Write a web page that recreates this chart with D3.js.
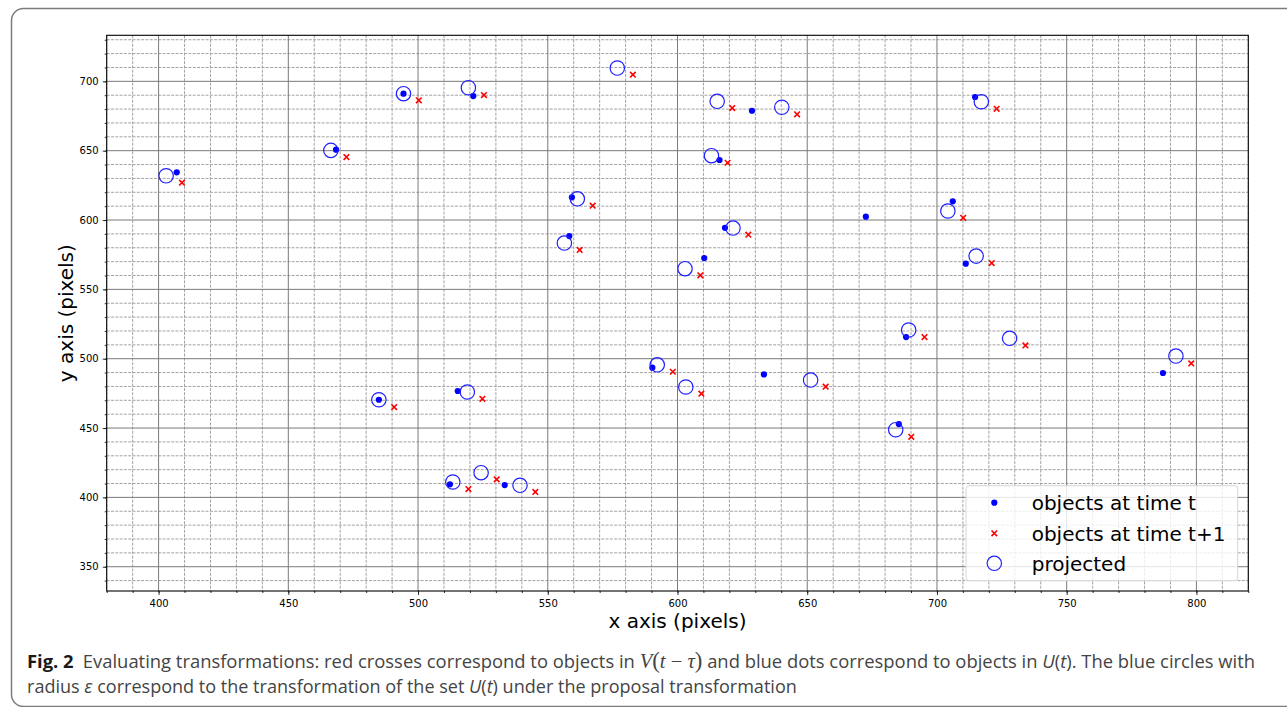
<!DOCTYPE html>
<html>
<head>
<meta charset="utf-8">
<script src="https://cdn.jsdelivr.net/npm/d3@7"></script>
<style>
  body { margin: 0; background: #fff; }
  svg { display: block; }
  .tick text { font-family: "DejaVu Sans", sans-serif; font-size: 10px; fill: #000; }
</style>
</head>
<body>
<svg id="chart" width="1287" height="707"></svg>
<script>
// objects at time t (blue dots)
var dotsT = [
    [407.0, 634.4], [468.4, 650.7], [494.4, 691.1], [484.9, 470.4], [521.3, 689.4],
    [628.7, 678.8], [616.2, 643.3], [559.3, 616.4], [558.3, 588.4], [618.3, 594.4],
    [610.3, 572.6], [590.3, 493.5], [633.3, 488.7], [515.3, 476.7], [512.3, 409.4],
    [533.4, 408.9], [714.7, 688.7], [672.6, 602.4], [706.1, 613.5], [711.1, 568.5],
    [688.1, 515.6], [787.1, 489.7], [685.3, 452.9]
];

// objects at time t+1 (red crosses)
var crossesT1 = [
    [409.0, 626.9], [472.4, 645.4], [500.3, 686.3], [490.8, 465.1], [525.4, 690.1],
    [582.8, 704.8], [621.1, 680.7], [646.1, 676.2], [619.3, 641.3], [567.3, 610.3],
    [627.3, 589.4], [562.3, 578.4], [608.8, 560.1], [598.2, 490.6], [609.2, 474.8],
    [657.1, 479.8], [524.8, 471.1], [519.4, 406.0], [530.3, 413.0], [545.2, 403.9],
    [723.0, 680.2], [710.1, 601.6], [721.1, 569.0], [695.2, 515.6], [734.1, 509.6],
    [798.0, 496.6], [690.1, 443.7]
];

// projected (blue open circles)
var projected = [
    [402.9, 631.9], [466.4, 650.2], [494.4, 691.1], [484.9, 470.4], [519.4, 695.4],
    [576.8, 709.6], [615.3, 685.6], [640.2, 681.3], [613.1, 646.4], [561.4, 615.3],
    [621.4, 594.2], [556.4, 583.4], [602.9, 564.9], [592.2, 495.6], [603.2, 479.6],
    [651.3, 484.6], [519.0, 476.0], [513.4, 411.1], [524.3, 417.8], [539.3, 408.7],
    [717.1, 685.3], [704.2, 606.5], [715.1, 574.0], [689.1, 520.7], [728.0, 514.7],
    [792.1, 501.9], [684.1, 448.8]
];

var xDomain = [380, 820],
    yDomain = [332.5, 733.2],
    xMajor = d3.range(400, 801, 50),
    yMajor = d3.range(350, 701, 50),
    xMinor = d3.range(380, 821, 10),
    yMinor = d3.range(340, 731, 10);

var legendLabels = ['objects at time t', 'objects at time t+1', 'projected'];

(function () {

    var svg = d3.select('#chart');

    // figure frame (caption box)
    svg.append('rect')
        .attr('x', 11.5).attr('y', 8.5)
        .attr('width', 1400).attr('height', 698)
        .attr('rx', 12).attr('ry', 12)
        .attr('fill', 'none')
        .attr('stroke', '#7c7c7c')
        .attr('stroke-width', 1.5);

    var pLeft = 106.7, pRight = 1248.3, pTop = 35.3, pBottom = 591;

    var x = d3.scaleLinear().domain(xDomain).range([pLeft, pRight]),
        y = d3.scaleLinear().domain(yDomain).range([pBottom, pTop]);

    var plot = svg.append('g');

    // minor grid
    plot.append('g').selectAll('line')
        .data(xMinor.filter(function (v) { return v % 50 !== 0; }))
        .enter().append('line')
        .attr('x1', function (d) { return x(d); })
        .attr('x2', function (d) { return x(d); })
        .attr('y1', pTop).attr('y2', pBottom)
        .attr('stroke', '#a3a3a3').attr('stroke-width', 1)
        .attr('stroke-dasharray', '3,1.3');

    plot.append('g').selectAll('line')
        .data(yMinor.filter(function (v) { return v % 50 !== 0; }))
        .enter().append('line')
        .attr('y1', function (d) { return y(d); })
        .attr('y2', function (d) { return y(d); })
        .attr('x1', pLeft).attr('x2', pRight)
        .attr('stroke', '#a3a3a3').attr('stroke-width', 1)
        .attr('stroke-dasharray', '3,1.3');

    // major grid
    plot.append('g').selectAll('line')
        .data(xMajor)
        .enter().append('line')
        .attr('x1', function (d) { return x(d); })
        .attr('x2', function (d) { return x(d); })
        .attr('y1', pTop).attr('y2', pBottom)
        .attr('stroke', '#7a7a7a').attr('stroke-width', 1);

    plot.append('g').selectAll('line')
        .data(yMajor)
        .enter().append('line')
        .attr('y1', function (d) { return y(d); })
        .attr('y2', function (d) { return y(d); })
        .attr('x1', pLeft).attr('x2', pRight)
        .attr('stroke', '#7a7a7a').attr('stroke-width', 1);

    // axes: minor ticks
    svg.append('g')
        .attr('transform', 'translate(0,' + pBottom + ')')
        .call(d3.axisBottom(x).tickValues(xMinor).tickSize(2).tickFormat(''))
        .call(function (g) { g.select('.domain').remove(); });

    svg.append('g')
        .attr('transform', 'translate(' + pLeft + ',0)')
        .call(d3.axisLeft(y).tickValues(yMinor).tickSize(2).tickFormat(''))
        .call(function (g) { g.select('.domain').remove(); });

    // axes: major ticks
    svg.append('g')
        .attr('transform', 'translate(0,' + pBottom + ')')
        .call(d3.axisBottom(x).tickValues(xMajor).tickSize(4).tickPadding(5).tickFormat(d3.format('d')))
        .call(function (g) { g.select('.domain').remove(); });

    svg.append('g')
        .attr('transform', 'translate(' + pLeft + ',0)')
        .call(d3.axisLeft(y).tickValues(yMajor).tickSize(4).tickPadding(4).tickFormat(d3.format('d')))
        .call(function (g) { g.select('.domain').remove(); });

    svg.selectAll('.tick line').attr('stroke', '#000').attr('stroke-width', 0.8);

    // spines
    svg.append('rect')
        .attr('x', pLeft).attr('y', pTop)
        .attr('width', pRight - pLeft).attr('height', pBottom - pTop)
        .attr('fill', 'none').attr('stroke', '#000').attr('stroke-width', 1.1);

    // marks
    var marks = svg.append('g');

    marks.selectAll('circle.dot')
        .data(dotsT)
        .enter().append('circle')
        .attr('class', 'dot')
        .attr('cx', function (d) { return x(d[0]); })
        .attr('cy', function (d) { return y(d[1]); })
        .attr('r', 3.1)
        .attr('fill', '#0000ff');

    function cross(sel, s) {
        sel.append('path')
            .attr('d', 'M' + (-s) + ',' + (-s) + 'L' + s + ',' + s + 'M' + (-s) + ',' + s + 'L' + s + ',' + (-s))
            .attr('stroke', '#ff0000')
            .attr('stroke-width', 1.6)
            .attr('fill', 'none');
    }

    marks.selectAll('g.cross')
        .data(crossesT1)
        .enter().append('g')
        .attr('class', 'cross')
        .attr('transform', function (d) { return 'translate(' + x(d[0]) + ',' + y(d[1]) + ')'; })
        .call(cross, 2.8);

    marks.selectAll('circle.proj')
        .data(projected)
        .enter().append('circle')
        .attr('class', 'proj')
        .attr('cx', function (d) { return x(d[0]); })
        .attr('cy', function (d) { return y(d[1]); })
        .attr('r', 7.2)
        .attr('fill', 'none')
        .attr('stroke', '#1f1fff')
        .attr('stroke-width', 1.2);

    // axis labels
    svg.append('text')
        .attr('x', (pLeft + pRight) / 2).attr('y', 628)
        .attr('text-anchor', 'middle')
        .style('font-family', '"DejaVu Sans", sans-serif')
        .style('font-size', '20px')
        .text('x axis (pixels)');

    svg.append('text')
        .attr('transform', 'translate(73,' + ((pTop + pBottom) / 2) + ') rotate(-90)')
        .attr('text-anchor', 'middle')
        .style('font-family', '"DejaVu Sans", sans-serif')
        .style('font-size', '20px')
        .text('y axis (pixels)');

    // legend
    var legend = svg.append('g');
    legend.append('rect')
        .attr('x', 966).attr('y', 485.7)
        .attr('width', 271.7).attr('height', 95)
        .attr('rx', 3)
        .attr('fill', '#fff').attr('fill-opacity', 0.8)
        .attr('stroke', '#d6d6d6').attr('stroke-width', 1);

    var rowsY = [502.7, 533.3, 563.3];
    legend.selectAll('text')
        .data(legendLabels)
        .enter().append('text')
        .attr('x', 1031.7)
        .attr('y', function (d, i) { return rowsY[i]; })
        .attr('dy', '0.36em')
        .style('font-family', '"DejaVu Sans", sans-serif')
        .style('font-size', '20px')
        .text(function (d) { return d; });

    legend.append('circle')
        .attr('cx', 994.3).attr('cy', rowsY[0]).attr('r', 3.1).attr('fill', '#0000ff');
    legend.append('g')
        .attr('transform', 'translate(994.3,' + rowsY[1] + ')')
        .call(cross, 2.8);
    legend.append('circle')
        .attr('cx', 994.3).attr('cy', rowsY[2]).attr('r', 7.2)
        .attr('fill', 'none').attr('stroke', '#1f1fff').attr('stroke-width', 1.2);

    // caption
    var capFont = '"Open Sans", "Noto Sans", sans-serif',
        mathFont = '"Liberation Serif", "DejaVu Serif", serif';

    var cap1 = svg.append('text')
        .attr('x', 27).attr('y', 668)
        .style('font-family', capFont)
        .style('font-size', '17px')
        .attr('fill', '#444');

    cap1.append('tspan').style('font-weight', 'bold').attr('fill', '#1a1a1a').text('Fig. 2');
    cap1.append('tspan').text('\u2002Evaluating transformations: red crosses correspond to objects in ');
    cap1.append('tspan').style('font-family', mathFont).style('font-style', 'italic').style('font-size', '19px').text('V');
    cap1.append('tspan').style('font-family', mathFont).style('font-size', '21px').text('(');
    cap1.append('tspan').style('font-family', mathFont).style('font-style', 'italic').style('font-size', '19px').text('t');
    cap1.append('tspan').style('font-family', mathFont).style('font-size', '19px').text(' \u2212 ');
    cap1.append('tspan').style('font-family', mathFont).style('font-style', 'italic').style('font-size', '19px').text('\u03c4');
    cap1.append('tspan').style('font-family', mathFont).style('font-size', '21px').text(')');
    cap1.append('tspan').text(' and blue dots correspond to objects in ');
    cap1.append('tspan').style('font-style', 'italic').text('U');
    cap1.append('tspan').text('(');
    cap1.append('tspan').style('font-style', 'italic').text('t');
    cap1.append('tspan').text('). The blue circles with');

    var cap2 = svg.append('text')
        .attr('x', 27).attr('y', 693)
        .style('font-family', capFont)
        .style('font-size', '17px')
        .attr('fill', '#444');

    cap2.append('tspan').text('radius ');
    cap2.append('tspan').style('font-style', 'italic').text('\u03b5');
    cap2.append('tspan').text(' correspond to the transformation of the set ');
    cap2.append('tspan').style('font-style', 'italic').text('U');
    cap2.append('tspan').text('(');
    cap2.append('tspan').style('font-style', 'italic').text('t');
    cap2.append('tspan').text(') under the proposal transformation');

    // fit caption lines to the measured widths
    [[cap1, 1229], [cap2, 770]].forEach(function (p) {
        var w = p[0].node().getComputedTextLength(),
            k = p[1] / w;
        p[0].style('font-size', (17 * k) + 'px');
        p[0].selectAll('tspan').each(function () {
            if (this.style.fontSize) {
                d3.select(this).style('font-size', (parseFloat(this.style.fontSize) * k) + 'px');
            }
        });
    });

})();
</script>
</body>
</html>
